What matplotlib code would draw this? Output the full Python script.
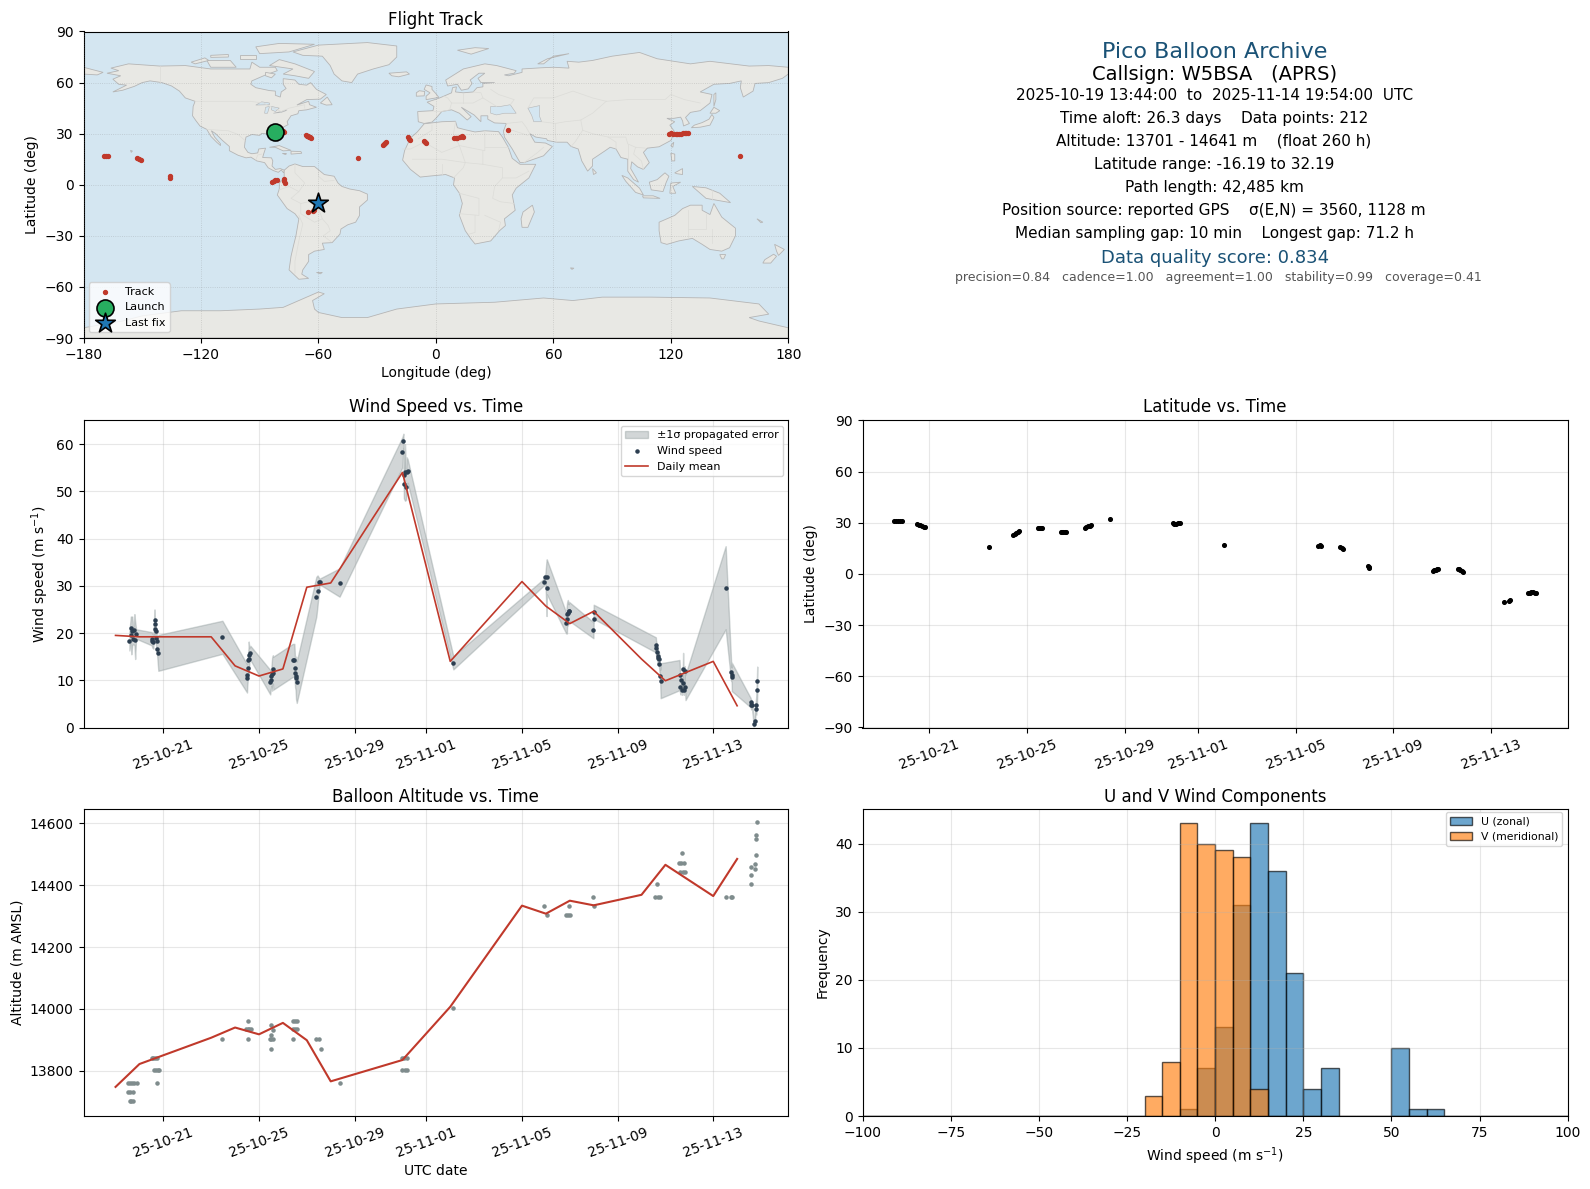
# -*- coding: utf-8 -*-
import datetime as dt
import matplotlib
matplotlib.use('Agg')
import matplotlib.pyplot as plt
import matplotlib.dates as mdates
import numpy as np
from matplotlib.patches import Polygon

# day numbers count from 1 Oct 2025 (so 32 = 1 Nov)
wind_t = [19.58, 19.64, 19.66, 19.70, 19.75, 19.79, 19.82, 19.86,
          20.51, 20.54, 20.58, 20.63, 20.64, 20.65, 20.68, 20.69, 20.72, 20.75, 20.79,
          23.47,
          24.50, 24.51, 24.53, 24.56, 24.57, 24.60, 24.64,
          25.47, 25.49, 25.52, 25.55, 25.58, 25.60,
          26.41, 26.48, 26.50, 26.51, 26.53, 26.55, 26.58,
          27.40, 27.45, 27.53, 27.57,
          28.37,
          31.00, 31.04, 31.06, 31.08, 31.11, 31.15, 31.18, 31.22,
          33.13,
          36.94, 36.98, 37.03, 37.04,
          37.85, 37.88, 37.89, 37.92, 37.95, 37.97,
          38.99, 38.995, 39.00,
          41.60, 41.61, 41.64, 41.67, 41.70, 41.73, 41.75, 41.78, 41.80,
          42.59, 42.63, 42.66, 42.69, 42.72, 42.74, 42.77, 42.80, 42.84,
          44.52,
          44.75, 44.77, 44.78,
          45.56, 45.59, 45.63, 45.69, 45.73, 45.77, 45.80, 45.83, 45.84]
wind_v = [18.3, 21.0, 19.5, 20.5, 18.8, 20.7, 18.5, 19.8,
          18.8, 18.4, 18.2, 22.8, 22.0, 20.9, 20.4, 19.0, 18.3, 16.6, 15.8,
          19.1,
          10.4, 11.2, 12.5, 14.2, 14.6, 15.4, 15.8,
          9.6, 10.0, 10.8, 11.3, 12.3, 11.5,
          14.2, 14.2, 12.5, 11.5, 11.0, 10.5, 9.6,
          27.7, 29.0, 30.8, 30.9,
          30.7,
          58.3, 60.7, 53.5, 51.5, 54.0, 51.0, 54.2, 54.3,
          13.7,
          30.9, 31.8, 29.6, 31.9,
          22.1, 23.0, 24.0, 24.3, 24.6, 24.6,
          20.6, 23.0, 24.5,
          17.5, 16.8, 16.0, 15.2, 14.7, 14.5, 13.4, 11.0, 9.9,
          11.1, 8.5, 10.0, 7.9, 9.5, 12.3, 7.9, 12.0, 8.5,
          29.6,
          11.8, 11.2, 10.7,
          5.3, 4.8, 4.7, 0.7, 1.4, 3.9, 4.7, 8.0, 9.9]
wind_err = [2.0, 2.5, 4.0, 3.0, 1.2, 3.3, 4.0, 1.0,
            1.4, 1.5, 1.5, 2.2, 1.8, 1.5, 1.5, 1.5, 1.5, 2.0, 3.8,
            3.5,
            3.0, 2.5, 2.5, 2.5, 3.6, 1.5, 1.5,
            2.6, 2.0, 2.0, 3.5, 3.0, 3.5,
            3.5, 3.5, 3.0, 3.0, 3.0, 4.5, 4.4,
            4.2, 3.2, 0.7, 0.7,
            3.0,
            3.2, 1.5, 5.0, 3.2, 6.0, 2.8, 3.0, 2.5,
            1.4,
            0.7, 0.8, 6.0, 3.7,
            2.2, 3.1, 2.5, 2.7, 1.5, 2.0,
            1.7, 2.0, 1.5,
            1.6, 1.6, 1.5, 1.5, 1.5, 1.5, 1.5, 1.2, 3.7,
            3.2, 1.5, 1.0, 1.0, 1.0, 3.5, 1.0, 1.0, 2.7,
            8.8,
            2.0, 1.5, 3.0,
            1.0, 1.0, 0.7, 0.5, 1.0, 1.0, 2.0, 3.0, 3.0]

daily_t = [19, 20, 23, 24, 25, 26, 27, 28, 31, 33, 36, 37, 38, 39, 41, 42, 44, 45]
daily_wind = [19.5, 19.2, 19.2, 13.05, 10.9, 12.4, 29.7, 30.6, 54.0, 14.0, 30.9, 25.7, 22.0,
              24.6, 14.5, 9.9, 14.0, 4.6]
daily_alt = [13748, 13822, 13907, 13940, 13918, 13955, 13899, 13766, 13835, 14007, 14334,
             14308, 14350, 14335, 14369, 14466, 14365, 14485]

alt_t = [19.54, 19.62, 19.70, 19.78, 19.88, 19.54, 19.62, 19.72, 19.60, 19.66, 19.74,
         20.52, 20.58, 20.65, 20.74, 20.60, 20.68, 20.76, 20.82, 20.75,
         23.47,
         24.55, 24.60, 24.46, 24.55, 24.65, 24.53,
         25.52, 25.58, 25.50, 25.44, 25.52, 25.60, 25.51,
         26.44, 26.50, 26.60, 26.44, 26.52, 26.60, 26.44,
         27.40, 27.50, 27.58,
         28.37,
         31.00, 31.08, 31.18, 31.00, 31.10, 31.20,
         33.13,
         36.94, 37.03,
         37.95, 37.85, 37.92, 38.00,
         38.99, 38.995,
         41.64, 41.58, 41.68, 41.78,
         42.69, 42.55, 42.65, 42.78, 42.62, 42.72, 42.84,
         44.52, 44.75, 44.78,
         45.56, 45.59, 45.60, 45.73, 45.76, 45.77, 45.80, 45.80, 45.84]
alt_v = [13762, 13762, 13762, 13762, 13762, 13733, 13733, 13733, 13704, 13704, 13704,
         13843, 13843, 13843, 13843, 13804, 13804, 13804, 13804, 13762,
         13904,
         13962, 13934, 13934, 13934, 13934, 13904,
         13949, 13932, 13916, 13904, 13904, 13904, 13872,
         13962, 13962, 13962, 13934, 13934, 13934, 13904,
         13904, 13904, 13872,
         13762,
         13843, 13843, 13843, 13804, 13804, 13804,
         14004,
         14333, 14304,
         14333, 14304, 14304, 14304,
         14362, 14333,
         14404, 14362, 14362, 14362,
         14503, 14471, 14471, 14471, 14442, 14442, 14442,
         14362, 14362, 14362,
         14404, 14433, 14458, 14469, 14452, 14497, 14549, 14561, 14603]

lat_t = [19.57, 19.65, 19.72, 19.80, 19.87,
         20.49, 20.56, 20.63, 20.70, 20.76, 20.82,
         23.45,
         24.44, 24.50, 24.56, 24.61, 24.66,
         25.43, 25.48, 25.53, 25.58, 25.62,
         26.38, 26.43, 26.49, 26.55, 26.60,
         27.37, 27.43, 27.50, 27.56, 27.63,
         28.38,
         30.96, 31.03, 31.10, 31.17, 31.26,
         33.09,
         36.92, 36.99, 37.05,
         37.84, 37.89, 37.95,
         38.98, 39.00, 39.02,
         41.62, 41.68, 41.74, 41.79, 41.84,
         42.65, 42.70, 42.75, 42.81, 42.87,
         44.53,
         44.76, 44.80,
         45.54, 45.60, 45.66, 45.72, 45.79, 45.87]
lat_v = [31.2, 31.2, 31.3, 31.2, 31.1,
         29.2, 28.9, 28.5, 28.2, 27.8, 27.5,
         15.9,
         23.1, 23.6, 24.0, 24.5, 25.0,
         26.9, 27.2, 27.0, 26.8, 27.1,
         24.7, 24.9, 24.6, 24.8, 24.5,
         26.9, 27.4, 27.9, 28.3, 28.8,
         32.3,
         30.0, 29.6, 29.3, 29.8, 30.1,
         17.0,
         16.3, 16.9, 16.5,
         15.6, 15.1, 14.7,
         4.9, 4.3, 3.7,
         1.6, 2.1, 2.5, 2.8, 3.1,
         3.1, 2.8, 2.3, 1.7, 1.2,
         -16.5,
         -15.6, -15.0,
         -11.4, -10.9, -10.7, -10.7, -11.0, -11.4]

track_lon = [-82.8, -80.5, -78.2, -77.8, -66.6, -66.0, -65.4, -64.8, -64.2, -63.7, -39.9,
             -27.0, -26.5, -26.0, -25.7, -14.0, -13.5, -13.0, -6.2, -5.6, -5.0,
             9.3, 10.2, 10.8, 12.5, 13.2, 13.8, 37.0,
             119.3, 120.2, 121.0, 122.5, 123.3, 124.2, 125.0, 126.0, 127.0, 128.0, 128.9,
             155.4, -169.5, -168.5, -167.5, -152.5, -151.6, -150.7, -135.8, -135.6,
             -83.5, -82.8, -82.0, -81.2, -77.8, -77.5, -77.2, -65.4, -62.8, -62.2, -61.0]
track_lat = [31.2, 31.3, 31.3, 31.2, 29.2, 28.9, 28.5, 28.2, 27.9, 27.5, 15.9,
             23.1, 23.8, 24.4, 25.0, 27.9, 27.0, 26.5, 25.6, 25.0, 24.5,
             27.4, 27.6, 27.5, 28.2, 28.5, 28.3, 32.3,
             30.0, 30.1, 30.0, 29.8, 30.0, 29.9, 30.0, 30.2, 30.3, 30.5, 30.6,
             17.0, 16.9, 16.8, 16.9, 16.0, 15.2, 14.7, 3.8, 4.9,
             1.5, 2.0, 2.5, 3.0, 3.1, 2.3, 1.2, -16.2, -15.6, -14.8, -11.4]
launch_lon, launch_lat = -82.3, 31.1
last_lon, last_lat = -60.4, -10.6

hist_edges = list(range(-100, 105, 5))
hist_u_left = [-10, -5, 0, 5, 10, 15, 20, 25, 30, 50, 55, 60]
hist_u_count = [1, 7, 13, 31, 43, 36, 21, 4, 7, 10, 1, 1]
hist_v_left = [-20, -15, -10, -5, 0, 5, 10]
hist_v_count = [3, 8, 43, 40, 39, 38, 4]

summary_lines = ['Pico Balloon Archive', 'Callsign: W5BSA   (APRS)',
                 '2025-10-19 13:44:00  to  2025-11-14 19:54:00  UTC',
                 'Time aloft: 26.3 days    Data points: 212',
                 'Altitude: 13701 - 14641 m    (float 260 h)',
                 'Latitude range: -16.19 to 32.19',
                 'Path length: 42,485 km',
                 'Position source: reported GPS    σ(E,N) = 3560, 1128 m',
                 'Median sampling gap: 10 min    Longest gap: 71.2 h',
                 'Data quality score: 0.834',
                 'precision=0.84   cadence=1.00   agreement=1.00   stability=0.99   coverage=0.41']

# rough coastlines, lon/lat read by eye
land_shapes = [
    # north america
    [(-168, 65.5), (-162, 67), (-166, 68.5), (-157, 71), (-141, 69.7), (-128, 70), (-115, 68), (-108, 68),
     (-95, 68), (-94, 72), (-90, 69), (-82, 69), (-81, 67), (-87, 64.5), (-94, 61), (-94.5, 59), (-92, 57),
     (-85, 55.3), (-82, 55), (-82, 52.5), (-79.5, 51.5), (-79, 54.5), (-76.5, 56.5), (-78, 59), (-78, 62.3),
     (-72, 61.5), (-70, 59), (-66, 58.5), (-64, 60), (-61, 56), (-56, 53), (-59, 50.3), (-66, 50), (-71, 46.8),
     (-65, 49), (-64.5, 47), (-61, 45.5), (-66, 44), (-70, 43.5), (-70.5, 41.7), (-74, 40.5), (-76, 37),
     (-75.5, 35.3), (-78, 33.8), (-81, 32), (-81.5, 30), (-80, 26.8), (-80.5, 25.2), (-82, 27), (-83, 29),
     (-85, 29.7), (-89, 30.2), (-90, 29), (-94, 29.5), (-97, 28), (-97.5, 25), (-97.8, 22), (-96, 19),
     (-94, 18.2), (-91, 18.7), (-90.5, 21), (-87, 21.5), (-88, 18), (-88.5, 16), (-84, 15.8), (-83.3, 14),
     (-83.7, 11), (-82, 9), (-79.5, 9.5), (-77.3, 8.5), (-77.8, 7), (-79, 8.7), (-80.5, 7.3), (-83, 8.3),
     (-85.7, 10), (-87.5, 13), (-91.5, 14), (-94.5, 16.2), (-97, 15.8), (-101, 17.3), (-105.5, 20),
     (-105.5, 22.5), (-109, 26), (-112.5, 30), (-114.7, 31.7), (-113, 28), (-110, 24), (-110, 23), (-112, 25),
     (-115, 28.5), (-117, 32.5), (-120.5, 34.5), (-122.5, 37.5), (-124.3, 40.5), (-124, 46), (-123, 49),
     (-128, 51), (-131, 55), (-135, 58), (-140, 60), (-146, 61), (-150, 60), (-154, 57.8), (-160, 55.5),
     (-165, 54.5), (-158, 58.5), (-162, 59), (-165, 62), (-161, 64)],
    # greenland and arctic islands
    [(-73, 78), (-60, 82), (-35, 83.5), (-20, 81.5), (-20, 75), (-24, 70.5), (-32, 68), (-40, 65), (-43, 60),
     (-48, 61), (-52, 65), (-54, 70), (-58, 75.5), (-68, 76)],
    [(-80, 73.5), (-72, 71), (-62, 66.5), (-65, 62.5), (-72, 64), (-78, 65), (-73, 68), (-85, 70)],
    [(-117, 73), (-105, 73), (-102, 69), (-115, 69)],
    [(-90, 77), (-75, 78), (-62, 82.5), (-80, 83), (-92, 81)],
    [(-125, 72), (-118, 74.5), (-116, 73), (-123, 71)],
    [(-100, 76), (-92, 76), (-92, 74), (-100, 74)],
    [(-115, 76), (-106, 76.5), (-106, 75), (-115, 74.8)],
    [(-87, 66), (-82, 65), (-84, 62.8), (-87, 64)],
    [(-59, 48), (-55.5, 51.5), (-53, 47), (-56, 46.8)],
    [(-85, 22), (-80, 23), (-74, 20.2), (-78, 19.9), (-82, 22)],
    [(-74, 19.7), (-69, 19.5), (-68.5, 18.5), (-74, 18)],
    [(-78.3, 18.4), (-76.3, 18.2), (-77, 17.8)],
    [(-156, 20.2), (-155, 19.8), (-155.6, 19)],
    [(-24, 65.5), (-15, 66.3), (-13.5, 65), (-19, 63.4), (-22.5, 64)],
    # south america
    [(-77.5, 8.5), (-75, 11), (-72, 12.2), (-68, 10.7), (-62, 10.7), (-57, 6), (-52, 5), (-50, 1), (-48, -1),
     (-44, -2.5), (-39, -3.5), (-35, -5.5), (-35, -9), (-39, -13), (-39, -18), (-41, -22), (-45, -23.5),
     (-48.5, -26), (-49, -29), (-53, -34), (-58, -34.3), (-57, -38), (-62, -39), (-65, -41), (-65, -45),
     (-68, -50), (-68.5, -52.5), (-65, -55), (-70, -55.5), (-75, -50), (-74, -42), (-73, -37), (-71.5, -30),
     (-70, -20), (-72, -17), (-76, -14), (-81, -6), (-80, -2.5), (-80, 1), (-77.5, 4)],
    [(-61, -51.5), (-58, -51.5), (-59, -52.3)],
    # africa
    [(-6, 35.8), (3, 37), (10, 37.3), (11, 33.5), (15, 32.3), (20, 31), (25, 31.7), (32, 31.2), (34, 28),
     (37, 22), (39, 15.5), (43, 12), (51, 12), (47.5, 4), (41, -2), (39, -6), (40.5, -15), (35, -20),
     (35.5, -24), (32.5, -27), (28, -33), (20, -34.8), (18, -32), (15, -27), (12, -18), (13.5, -11), (12, -5),
     (9, 0), (9.5, 4), (5, 6), (-4, 5), (-8, 4.5), (-13, 9), (-17, 14.5), (-16, 20), (-13, 27.5), (-9.5, 31)],
    [(49.3, -12), (50.3, -16), (47, -25), (44, -25), (43.5, -20), (44.5, -16)],
    # eurasia
    [(-9, 37), (-9.3, 43), (-1.5, 43.5), (-1, 46), (-4.5, 48.5), (1.5, 50.8), (4, 52), (8, 54), (8.5, 57),
     (10.5, 57.5), (10, 54.5), (14, 54), (19, 54.5), (21, 57), (24, 57.5), (24, 59.5), (30, 60), (23, 60),
     (21.5, 62.5), (25, 65.5), (22, 65.5), (17.5, 61.5), (18.5, 59.5), (16.5, 56.3), (13, 55.5), (11, 59),
     (6, 58), (5, 61.5), (14, 68), (25, 71), (31, 70), (41, 67), (40, 65.5), (35, 64.5), (37, 64), (44, 66),
     (44, 68), (54, 68.7), (60, 69), (68, 68.5), (67, 72.5), (73, 72), (80, 73), (90, 75.5), (104, 77.7),
     (113, 74), (130, 71), (140, 72.5), (160, 69.7), (170, 70), (180, 69), (180, 65), (177, 62.5), (170, 60),
     (163, 59.5), (162, 55), (157, 51.5), (155.5, 57), (156, 61), (150, 59.5), (142, 59), (135, 54.5),
     (141, 53), (140, 48), (135, 43.5), (130, 42.5), (127.5, 39.5), (129.5, 36), (126.5, 34.5), (126, 37.5),
     (125, 39.7), (121.5, 39), (118, 39), (122, 37), (119.5, 35), (122, 31), (120, 26), (114, 22.3),
     (108, 21.5), (106, 19), (109, 13), (106, 9), (103, 10.5), (100, 13.5), (99.5, 9.5), (103.5, 1.5),
     (101, 3), (98, 8), (98, 15), (94.5, 16), (92, 21), (89, 22), (86.5, 20), (80, 15), (80, 11), (77.5, 8),
     (74.5, 14), (72.7, 21), (69, 22.5), (67, 25), (61.5, 25), (57, 26), (56.5, 27), (51, 28), (48, 30),
     (50.5, 25), (56, 24.5), (59.5, 22.5), (55, 17), (45, 13), (43, 13), (39, 21), (35, 28), (34.5, 31.5),
     (36, 36), (30, 36.3), (26.5, 38.5), (26.5, 40.5), (23, 40.5), (23, 37), (19.5, 41), (13, 45.5), (18, 40),
     (16, 38), (12, 42), (8, 44), (3, 43), (0, 39), (-2, 36.8), (-6, 36)],
    [(-180, 69), (-170, 66), (-173, 64.5), (-180, 65)],
    [(-5, 50), (1.5, 51.3), (0, 53.5), (-2, 56), (-2, 57.7), (-5, 58.6), (-6, 56), (-3, 54), (-5, 52)],
    [(-10, 52), (-6, 52.2), (-5.7, 54.8), (-8.5, 55.2), (-10, 54)],
    [(11, 79), (20, 80.5), (27, 80), (18, 76.7)],
    [(52, 71), (57, 74), (68, 77), (60, 75.5), (55, 71)],
    [(130.5, 33.5), (135, 33.8), (140, 35), (142, 39.5), (141, 41.3), (139.5, 38.5), (136, 36.5), (132, 35)],
    [(140, 42), (142, 45.5), (145, 43.5), (143, 42)],
    [(142, 46), (143, 50), (143, 54), (142, 53)],
    [(120, 23), (121.5, 25), (121, 22)],
    [(120, 18.5), (122, 18), (122, 14), (120.5, 14)],
    [(122, 7), (126, 9.5), (126, 6), (123, 6.5)],
    [(109, 1.5), (113, 3), (117, 7), (119, 5), (117.5, 1), (116, -4), (110, -3)],
    [(95, 5.5), (98, 4), (104, -2), (106, -6), (102, -4.5), (97, 2)],
    [(105.5, -6.5), (111, -6.5), (114.5, -8), (106, -7.7)],
    [(119.5, -5), (120, 1), (125, 1.5), (121, -1), (122.5, -5)],
    [(131, -1), (138, -1.8), (145, -5), (150.5, -10.5), (143, -9), (138, -8), (134, -4)],
    [(80, 9.5), (82, 7), (80.5, 6)],
    [(164, -20), (167, -22), (166, -22.3)],
    [(68.7, -48.8), (70.5, -49), (69.5, -49.7)],
    # australia, new zealand
    [(114, -22), (122, -18), (126, -14), (130, -12), (136, -12), (136, -15), (140, -17.5), (142, -11),
     (146, -19), (153, -25.5), (153, -30), (150, -37), (146, -39), (140, -38), (136, -35), (131, -31.5),
     (124, -33), (118, -35), (115, -34), (114, -27)],
    [(145, -41), (148, -41), (147, -43.5), (146, -43.5)],
    [(173, -35), (178, -38), (175, -41.5), (174, -39)],
    [(172.5, -40.8), (174, -42), (171, -46), (167, -46), (168, -44)],
    # antarctica
    [(-180, -90), (-180, -84), (-160, -80), (-150, -77), (-130, -74), (-110, -74), (-90, -73), (-78, -72),
     (-68, -67), (-60, -63), (-57, -64), (-63, -68), (-62, -73), (-60, -75), (-48, -78), (-35, -78), (-20, -73),
     (0, -70), (30, -69), (55, -66.5), (70, -68), (85, -66), (110, -66), (140, -66.5), (165, -70), (170, -76),
     (160, -78), (165, -80), (180, -84), (180, -90)],
]
water_shapes = [
    [(28, 42), (28, 46), (33, 46), (38, 47), (41, 42), (35, 42), (31, 41)],
    [(47, 45), (53, 46.5), (53, 40), (54, 37), (50, 37), (49, 40.5)],
    [(-92, 46.8), (-85, 47), (-85, 48), (-89, 48.7)],
    [(-87.5, 42), (-86, 42), (-85, 46), (-87, 45.5)],
    [(-84, 46), (-80, 45), (-82, 43), (-84, 44)],
    [(-83, 42), (-79, 43), (-76, 44), (-77, 43.3), (-79, 42.5)],
]
border_lines = [
    [(-141, 69.7), (-141, 60)], [(-123, 49), (-95, 49), (-88, 48), (-83, 45), (-79, 43), (-75, 45), (-67, 47), (-67, 45)],
    [(-117, 32.5), (-106, 31.7), (-101, 29.5), (-97.5, 26)], [(-92, 14.5), (-91, 17.5), (-89, 18)],
    [(-72, 12), (-72, 7), (-67, 1), (-70, -4), (-74, -8), (-69, -11), (-65, -10), (-60, -14), (-58, -20), (-55, -24), (-54, -27), (-57.5, -30), (-53.5, -33.5)],
    [(-70, -18), (-68, -23), (-70, -33), (-72, -45), (-72, -52)], [(-60, 8), (-60, 5), (-57, 2), (-52, 2.5)],
    [(-80, -3), (-75, -1), (-70, -4)], [(-69, -11), (-69, -17), (-62, -22), (-58, -20)],
    [(-9, 27), (-2, 32), (-2, 35)], [(-17, 21), (-13, 21), (-6, 25), (3, 19), (12, 23), (25, 20), (25, 31.7)],
    [(10, 37), (9, 30), (12, 23), (15, 13), (24, 12), (24, 20)], [(25, 22), (37, 22)], [(-12, 15), (3, 15), (15, 13)],
    [(3, 6), (3, 12)], [(9, 4), (14, 10), (15, 13)], [(24, 12), (34, 10), (34, 4), (41, 4), (47.5, 8)],
    [(34, 4), (30, -1), (29, -8), (33, -10), (40, -11)], [(12, -5), (22, -8), (22, -18), (12, -17)],
    [(20, -18), (20, -28), (17, -29)], [(25, -18), (33, -22), (32, -27)],
    [(-1, 43), (3, 43), (7, 44), (8, 48), (6, 51), (4, 52)], [(8, 48), (14, 48), (19, 48), (24, 51), (23, 54), (19, 54.5)],
    [(14, 48), (14, 54)], [(24, 51), (31, 46)], [(28, 56), (32, 53), (40, 50), (38, 47)],
    [(47, 45), (50, 51), (60, 51), (70, 55), (80, 51), (87, 49)], [(87, 49), (98, 50), (108, 50), (117, 50), (120, 53), (127, 50), (135, 48)],
    [(87, 49), (80, 42), (74, 38), (75, 32), (80, 30), (88, 28), (97, 28), (98, 24), (102, 22), (107, 21.5)],
    [(74, 38), (66, 37), (61, 36), (61, 30), (61.5, 25)], [(54, 37), (61, 36)], [(75, 32), (71, 25), (69, 22.5)],
    [(36, 36), (44, 37), (46, 34), (48, 30)], [(36, 32), (39, 32), (47, 29)], [(45, 13), (52, 19), (55, 22)],
    [(88, 28), (92, 25), (92, 21)], [(98, 24), (98, 15)], [(102, 22), (101, 18), (105, 14), (106, 9)],
    [(141, -3), (141, -9)], [(129, -15), (129, -31)], [(138, -17), (138, -26), (129, -26)], [(141, -26), (141, -34)],
]

ocean_color = '#d4e6f1'
land_color = '#e8e8e4'
red = '#c0392b'
title_blue = '#1a5276'
point_dark = '#2c3e50'
point_grey = '#7f8c8d'

W, H = 1590.0, 1189.0
LEFT_X = (83.5, 788.3)
RIGHT_X = (862.5, 1567.7)
ROW1 = (31.5, 338.0)
ROW2 = (420.5, 727.5)
ROW3 = (808.5, 1116.0)


def make_axes(xr, yr):
    return fig.add_axes([xr[0] / W, 1 - yr[1] / H, (xr[1] - xr[0]) / W, (yr[1] - yr[0]) / H])


def to_dates(days):
    base = mdates.date2num(dt.datetime(2025, 9, 30))
    return base + np.asarray(days, dtype=float)


def date_axis(ax, first, last):
    ax.set_xlim(to_dates(first), to_dates(last))
    ax.set_xticks(to_dates([21, 25, 29, 32, 36, 40, 44]))
    ax.xaxis.set_major_formatter(mdates.DateFormatter('%y-%m-%d'))
    ax.tick_params(axis='x', labelrotation=20)
    ax.grid(True, alpha=0.3)


fig = plt.figure(figsize=(W / 100, H / 100), dpi=100)

# flight track
ax = make_axes(LEFT_X, ROW1)
ax.set_facecolor(ocean_color)
for shape in land_shapes:
    ax.add_patch(Polygon(shape, closed=True, facecolor=land_color, edgecolor='#b5b5b5', linewidth=0.6, zorder=1))
for shape in water_shapes:
    ax.add_patch(Polygon(shape, closed=True, facecolor=ocean_color, edgecolor='#b5b5b5', linewidth=0.4, zorder=1.1))
for line in border_lines:
    xs, ys = zip(*line)
    ax.plot(xs, ys, color='#dcdcd8', linewidth=0.5, zorder=1.2)
ax.scatter(track_lon, track_lat, s=8, color=red, zorder=4, label='Track')
ax.scatter([launch_lon], [launch_lat], s=150, color='#27ae60', edgecolor='black', linewidth=1.2, zorder=5, label='Launch')
ax.scatter([last_lon], [last_lat], s=220, marker='*', color='#1f77b4', edgecolor='black', linewidth=1.2, zorder=5, label='Last fix')
ax.set_xlim(-180, 180)
ax.set_ylim(-90, 90)
ax.set_xticks(range(-180, 181, 60))
ax.set_yticks(range(-90, 91, 30))
ax.grid(True, alpha=0.3, linewidth=0.6, linestyle=':', color='#777777', zorder=2)
ax.set_axisbelow(False)
ax.set_xlabel('Longitude (deg)', labelpad=3)
ax.set_ylabel('Latitude (deg)')
ax.set_title('Flight Track', fontsize=12, pad=5)
ax.legend(loc='lower left', fontsize=8)

# summary text block
ax = make_axes(RIGHT_X, ROW1)
ax.axis('off')
text_y = [51.5, 74.5, 95.4, 118.7, 141, 164.4, 187.7, 210, 233.4, 257.7, 278]
text_x = [1215.1, 1214.6, 1214.1, 1214.1, 1214.1, 1214.1, 1214.1, 1214.1, 1214.1, 1214.6, 1218.1]
text_size = [16, 14, 11, 11, 11, 11, 11, 11, 11, 13, 9]
text_color = [title_blue, 'black', 'black', 'black', 'black', 'black', 'black', 'black', 'black', title_blue, '#555555']
for line, x, y, size, color in zip(summary_lines, text_x, text_y, text_size, text_color):
    fig.text(x / W, 1 - y / H, line, ha='center', va='center', fontsize=size, color=color)

# wind speed
ax = make_axes(LEFT_X, ROW2)
wind_lo = np.array(wind_v) - np.array(wind_err)
wind_hi = np.array(wind_v) + np.array(wind_err)
ax.fill_between(to_dates(wind_t), wind_lo, wind_hi, color=point_grey, alpha=0.35, label='±1σ propagated error')
ax.scatter(to_dates(wind_t), wind_v, s=5, color=point_dark, zorder=3, label='Wind speed')
ax.plot(to_dates(daily_t), daily_wind, color=red, linewidth=1.2, zorder=4, label='Daily mean')
date_axis(ax, 17.66, 47.14)
ax.set_ylim(0, 65)
ax.set_ylabel('Wind speed (m s$^{-1}$)')
ax.set_title('Wind Speed vs. Time', fontsize=12)
ax.legend(loc='upper right', fontsize=8)

# latitude
ax = make_axes(RIGHT_X, ROW2)
ax.scatter(to_dates(lat_t), lat_v, s=7, color='black', zorder=3)
date_axis(ax, 18.26, 47.15)
ax.set_ylim(-90, 90)
ax.set_yticks(range(-90, 91, 30))
ax.set_ylabel('Latitude (deg)')
ax.set_title('Latitude vs. Time', fontsize=12)

# altitude
ax = make_axes(LEFT_X, ROW3)
ax.scatter(to_dates(alt_t), alt_v, s=5, color=point_grey, zorder=3)
ax.plot(to_dates(daily_t), daily_alt, color=red, linewidth=1.5, zorder=4)
date_axis(ax, 17.66, 47.14)
ax.set_ylim(13654, 14648)
ax.set_yticks(range(13800, 14601, 200))
ax.set_xlabel('UTC date', labelpad=3)
ax.set_ylabel('Altitude (m AMSL)')
ax.set_title('Balloon Altitude vs. Time', fontsize=12, pad=5)

# wind components
ax = make_axes(RIGHT_X, ROW3)
ax.hist(np.array(hist_u_left) + 2.5, bins=hist_edges, weights=hist_u_count, color='#1f77b4', alpha=0.65,
        edgecolor='black', label='U (zonal)')
ax.hist(np.array(hist_v_left) + 2.5, bins=hist_edges, weights=hist_v_count, color='#ff7f0e', alpha=0.65,
        edgecolor='black', label='V (meridional)')
ax.set_xlim(-100, 100)
ax.set_xticks(range(-100, 101, 25))
ax.set_ylim(0, 45.15)
ax.grid(True, alpha=0.3)
ax.set_xlabel('Wind speed (m s$^{-1}$)')
ax.set_ylabel('Frequency')
ax.set_title('U and V Wind Components', fontsize=12, pad=5)
ax.legend(loc='upper right', fontsize=7.8, bbox_to_anchor=(0.9955, 0.995), borderaxespad=0.2)

fig.savefig('out.png', dpi=100)
